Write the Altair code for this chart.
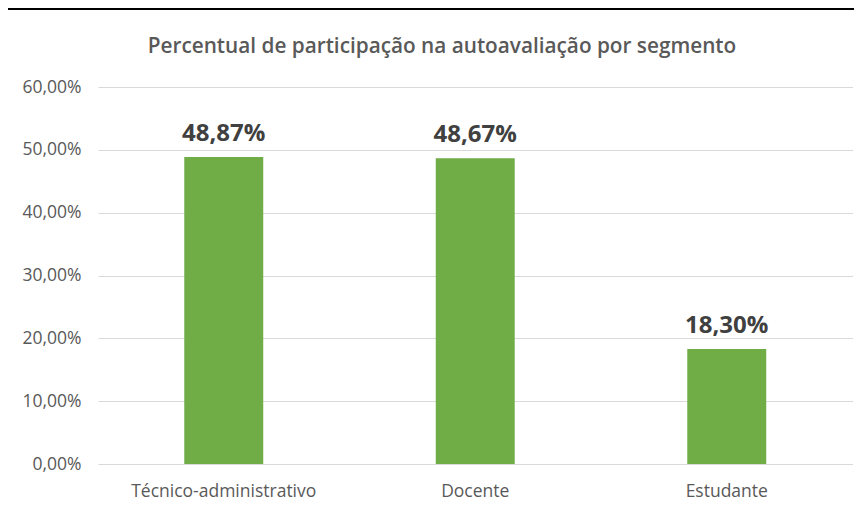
import altair as alt
import pandas as pd

categories = ["Técnico-administrativo", "Docente", "Estudante"]
values = [0.4887, 0.4867, 0.1830]
y_ticks = [0, 0.1, 0.2, 0.3, 0.4, 0.5, 0.6]
title_text = "Percentual de participação na autoavaliação por segmento"

df = pd.DataFrame({"segmento": categories, "percentual": values})

FONT = "Open Sans"
W, H = 846, 490

base = alt.Chart(df).encode(
    x=alt.X(
        "segmento:N", sort=categories, title=None,
        scale=alt.Scale(range=[90, 844.5], paddingInner=0.686, paddingOuter=0.343),
        axis=alt.Axis(orient="bottom", offset=-36, domain=False, ticks=False,
                      labelAngle=0, labelPadding=18, labelFont=FONT,
                      labelFontSize=17.5, labelColor="#595959", grid=False,
                      labelLimit=400),
    ),
    y=alt.Y(
        "percentual:Q", title=None,
        scale=alt.Scale(domain=[0, 0.6], range=[454, 77], nice=False),
        axis=alt.Axis(orient="left", offset=-90, values=y_ticks, format=".2%",
                      domain=False, ticks=False, labelPadding=17, labelFont=FONT,
                      labelFontSize=17.5, labelColor="#595959", grid=True,
                      gridColor="#d9d9d9", gridWidth=1),
    ),
)

bars = base.mark_bar(color="#70ad47")
labels = base.mark_text(
    baseline="bottom", dy=-11, font=FONT, fontWeight="bold", fontSize=24,
    color="#404040",
).encode(text=alt.Text("percentual:Q", format=".2%"))

chart = (
    (bars + labels)
    .properties(
        width=W, height=H,
        title=alt.Title(title_text, anchor="middle", frame="group", offset=-48,
                        dx=11, font=FONT, fontSize=20.75, fontWeight=600,
                        color="#595959"),
        padding={"left": 0, "top": 2, "right": 0, "bottom": 0},
        autosize="none",
        background="black",
        view=alt.ViewBackground(fill="white", stroke=None),
    )
    .configure_view(fill="white", strokeWidth=0)
    .configure(locale={"number": {"decimal": ",", "thousands": ".",
                                  "grouping": [3], "currency": ["R$", ""]}})
)

chart.save("out.html", embed_options={"renderer": "svg", "actions": False})
